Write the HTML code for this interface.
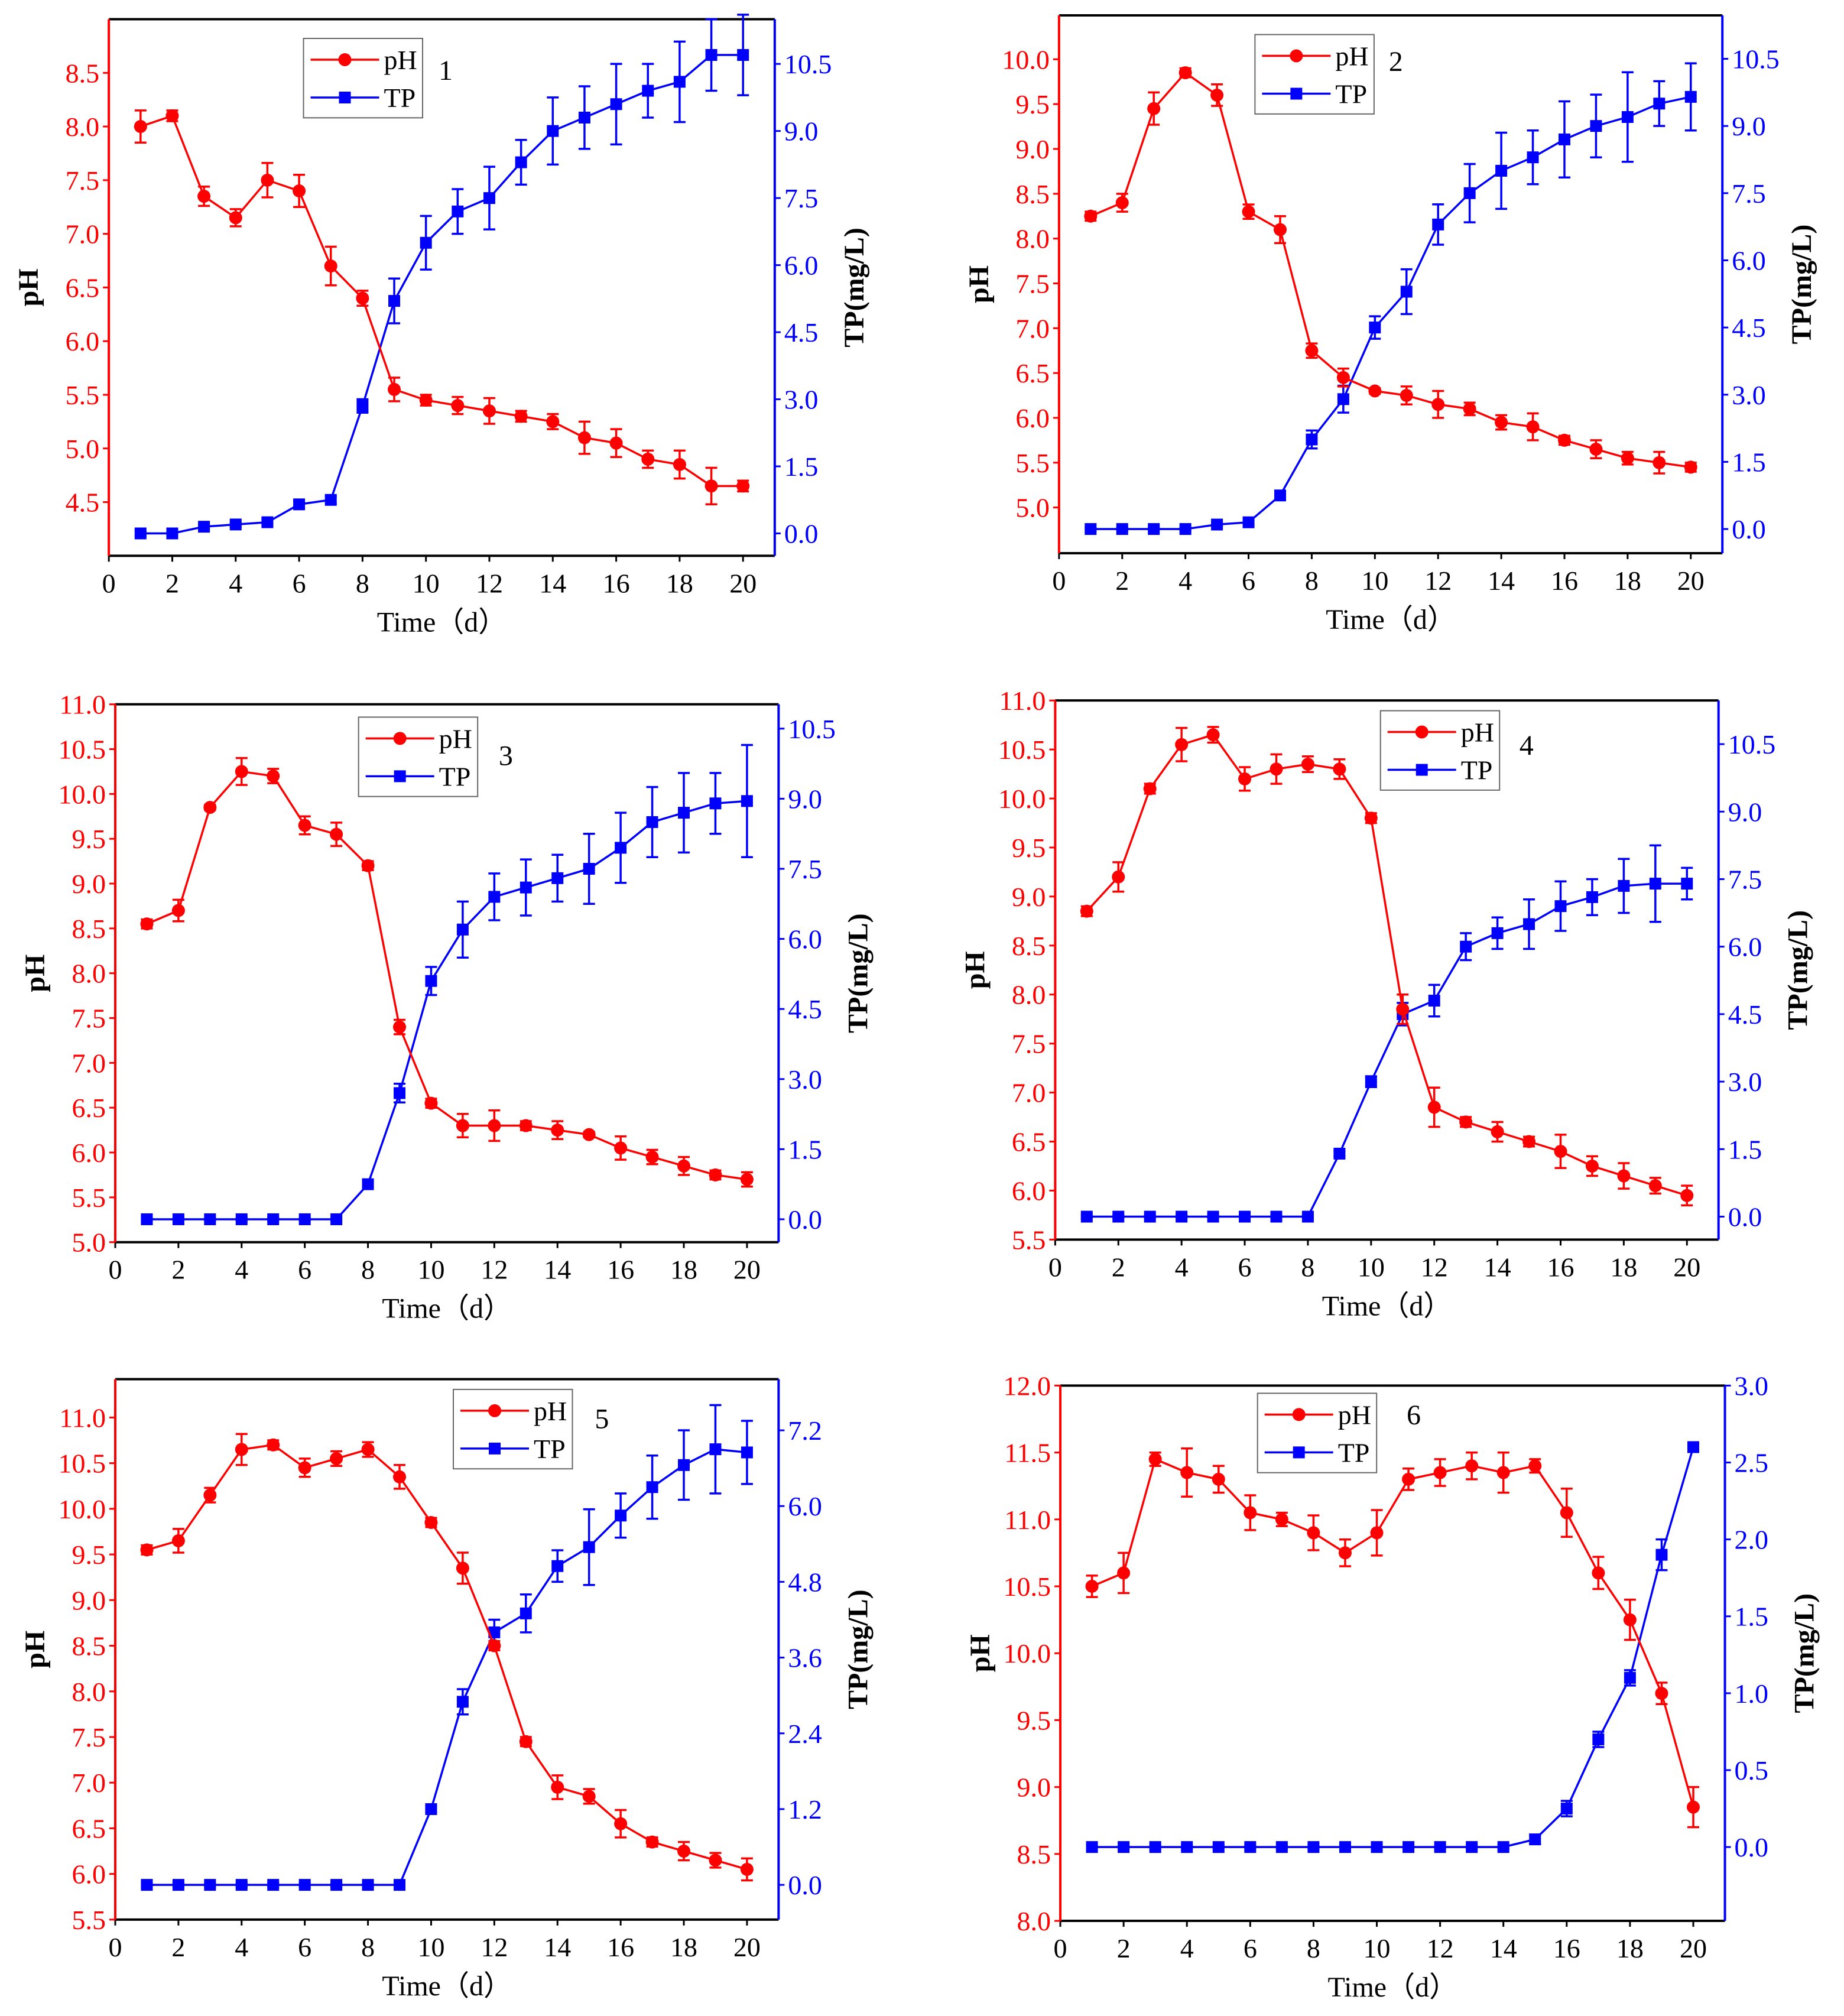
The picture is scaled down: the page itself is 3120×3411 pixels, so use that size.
<!DOCTYPE html>
<html><head><meta charset="utf-8"><style>
html,body{margin:0;padding:0;background:#fff;}
svg{display:block;}
text{font-family:"Liberation Serif",serif;}
</style></head><body>
<svg id="fig" width="3120" height="3411" viewBox="0 0 3120 3411" xmlns="http://www.w3.org/2000/svg"></svg>
<script>
const days = [1,2,3,4,5,6,7,8,9,10,11,12,13,14,15,16,17,18,19,20];
const xTicks = [0,2,4,6,8,10,12,14,16,18,20];
const ph1 = [8.0,8.1,7.35,7.15,7.5,7.4,6.7,6.4,5.55,5.45,5.4,5.35,5.3,5.25,5.1,5.05,4.9,4.85,4.65,4.65];
const ph1Err = [.15,.05,.09,.08,.16,.15,.18,.07,.11,.05,.08,.12,.05,.07,.15,.13,.08,.13,.17,.05];
const tp1 = [0,0,0.15,0.2,0.25,0.65,0.75,2.85,5.2,6.5,7.2,7.5,8.3,9.0,9.3,9.6,9.9,10.1,10.7,10.7];
const tp1Err = [.05,.05,.05,.05,.05,.08,.08,.15,.5,.6,.5,.7,.5,.75,.7,.9,.6,.9,.8,.9];
const ph2 = [8.25,8.4,9.45,9.85,9.6,8.3,8.1,6.75,6.45,6.3,6.25,6.15,6.1,5.95,5.9,5.75,5.65,5.55,5.5,5.45];
const ph2Err = [.05,.1,.18,.05,.12,.08,.15,.08,.1,.03,.1,.15,.07,.08,.15,.05,.1,.07,.12,.05];
const tp2 = [0,0,0,0,0.1,0.15,0.75,2.0,2.9,4.5,5.3,6.8,7.5,8.0,8.3,8.7,9.0,9.2,9.5,9.65];
const tp2Err = [.03,.03,.03,.03,.03,.05,.1,.2,.3,.25,.5,.45,.65,.85,.6,.85,.7,1.0,.5,.75];
const ph3 = [8.55,8.7,9.85,10.25,10.2,9.65,9.55,9.2,7.4,6.55,6.3,6.3,6.3,6.25,6.2,6.05,5.95,5.85,5.75,5.7];
const ph3Err = [.05,.12,.03,.15,.08,.1,.13,.05,.08,.05,.13,.17,.05,.1,.03,.13,.08,.1,.05,.08];
const tp3 = [0,0,0,0,0,0,0,0.75,2.7,5.1,6.2,6.9,7.1,7.3,7.5,7.95,8.5,8.7,8.9,8.95];
const tp3Err = [.03,.03,.03,.03,.03,.03,.03,.05,.2,.3,.6,.5,.6,.5,.75,.75,.75,.85,.65,1.2];
const ph4 = [8.85,9.2,10.1,10.55,10.65,10.2,10.3,10.35,10.3,9.8,7.85,6.85,6.7,6.6,6.5,6.4,6.25,6.15,6.05,5.95];
const ph4Err = [.05,.15,.05,.17,.08,.12,.15,.08,.1,.05,.15,.2,.05,.1,.05,.17,.1,.13,.08,.1];
const tp4 = [0,0,0,0,0,0,0,0,1.4,3.0,4.5,4.8,6.0,6.3,6.5,6.9,7.1,7.35,7.4,7.4];
const tp4Err = [.03,.03,.03,.03,.03,.03,.03,.03,.05,.12,.25,.35,.3,.35,.55,.55,.4,.6,.85,.35];
const ph5 = [9.55,9.65,10.15,10.65,10.7,10.45,10.55,10.65,10.35,9.85,9.35,8.5,7.45,6.95,6.85,6.55,6.35,6.25,6.15,6.05];
const ph5Err = [.05,.13,.08,.17,.05,.1,.08,.08,.13,.05,.17,.05,.05,.13,.08,.15,.05,.1,.08,.12];
const tp5 = [0,0,0,0,0,0,0,0,0,1.2,2.9,4.0,4.3,5.05,5.35,5.85,6.3,6.65,6.9,6.85];
const tp5Err = [.03,.03,.03,.03,.03,.03,.03,.03,.03,.05,.2,.2,.3,.25,.6,.35,.5,.55,.7,.5];
const ph6 = [10.5,10.6,11.45,11.35,11.3,11.05,11.0,10.9,10.75,10.9,11.3,11.35,11.4,11.35,11.4,11.05,10.6,10.25,9.7,8.85];
const ph6Err = [.08,.15,.05,.18,.1,.13,.05,.13,.1,.17,.08,.1,.1,.15,.05,.18,.12,.15,.08,.15];
const tp6 = [0,0,0,0,0,0,0,0,0,0,0,0,0,0,0.05,0.25,0.7,1.1,1.9,2.6];
const tp6Err = [.01,.01,.01,.01,.01,.01,.01,.01,.01,.01,.01,.01,.01,.01,.03,.05,.05,.05,.1,.03];
const phTicks1=[4.5,5.0,5.5,6.0,6.5,7.0,7.5,8.0,8.5];
const phTicks2=[5.0,5.5,6.0,6.5,7.0,7.5,8.0,8.5,9.0,9.5,10.0];
const phTicks3=[5.0,5.5,6.0,6.5,7.0,7.5,8.0,8.5,9.0,9.5,10.0,10.5,11.0];
const phTicks4=[5.5,6.0,6.5,7.0,7.5,8.0,8.5,9.0,9.5,10.0,10.5,11.0];
const phTicks5=[5.5,6.0,6.5,7.0,7.5,8.0,8.5,9.0,9.5,10.0,10.5,11.0];
const phTicks6=[8.0,8.5,9.0,9.5,10.0,10.5,11.0,11.5,12.0];
const tpTicksA=[0,1.5,3.0,4.5,6.0,7.5,9.0,10.5];
const tpTicks5=[0,1.2,2.4,3.6,4.8,6.0,7.2];
const tpTicks6=[0,0.5,1.0,1.5,2.0,2.5,3.0];

const S=2.1667;
const panels=[
 {n:'1',box:[85,605,15,434],ph:[4.0,9.0],tp:[-0.5,11.5],phV:ph1,phE:ph1Err,tpV:tp1,tpE:tp1Err,pt:phTicks1,tt:tpTicksA,dec:1,leg:[237,30],num:[348,55]},
 {n:'2',box:[827,1345,12,432],ph:[4.49,10.49],tp:[-0.54,11.47],phV:ph2,phE:ph2Err,tpV:tp2,tpE:tp2Err,pt:phTicks2,tt:tpTicksA,dec:1,leg:[980,27],num:[1090,48]},
 {n:'3',box:[90,608,550,970],ph:[5.0,11.0],tp:[-0.49,11.02],phV:ph3,phE:ph3Err,tpV:tp3,tpE:tp3Err,pt:phTicks3,tt:tpTicksA,dec:1,leg:[280,560],num:[395,590]},
 {n:'4',box:[824,1342,547,968],ph:[5.5,11.0],tp:[-0.51,11.47],phV:ph4,phE:ph4Err,tpV:tp4,tpE:tp4Err,pt:phTicks4,tt:tpTicksA,dec:1,leg:[1078,555],num:[1192,582]},
 {n:'5',box:[90,608,1077,1499],ph:[5.5,11.42],tp:[-0.55,8.01],phV:ph5,phE:ph5Err,tpV:tp5,tpE:tp5Err,pt:phTicks5,tt:tpTicks5,dec:1,leg:[354,1085],num:[470,1108]},
 {n:'6',box:[828,1347,1082,1500],ph:[8.0,12.0],tp:[-0.48,3.0],phV:ph6,phE:ph6Err,tpV:tp6,tpE:tp6Err,pt:phTicks6,tt:tpTicks6,dec:1,leg:[982,1088],num:[1104,1105]}
];
const NS='http://www.w3.org/2000/svg';
const svg=document.getElementById('fig');
function mk(tag,attrs,parent){const e=document.createElementNS(NS,tag);for(const k in attrs)e.setAttribute(k,attrs[k]);(parent||svg).appendChild(e);return e;}
panels.forEach(p=>{
 const L=p.box[0]*S,R=p.box[1]*S,T=p.box[2]*S,B=p.box[3]*S;
 const g=mk('g',{});
 
 
 const xs=v=>L+(v-0)/21*(R-L);
 const yp=v=>B-(v-p.ph[0])/(p.ph[1]-p.ph[0])*(B-T);
 const yt=v=>B-(v-p.tp[0])/(p.tp[1]-p.tp[0])*(B-T);
 // frame
 mk('line',{x1:L,y1:T,x2:R,y2:T,stroke:'#000','stroke-width':4},g);
 const xa=mk('line',{x1:L,y1:B,x2:R,y2:B,stroke:'#000','stroke-width':4},g);
 
 const la=mk('line',{x1:L,y1:T,x2:L,y2:B,stroke:'#f00','stroke-width':4},g);
 
 const ra=mk('line',{x1:R,y1:T,x2:R,y2:B,stroke:'#00f','stroke-width':4},g);
 
 xTicks.forEach(v=>{
  mk('line',{x1:xs(v),y1:B,x2:xs(v),y2:B+10,stroke:'#000','stroke-width':3},g);
  const t=mk('text',{x:xs(v),y:B+62,'font-size':46,'text-anchor':'middle',fill:'#000'},g);
  t.textContent=v;
  
 });
 p.pt.forEach(v=>{
  mk('line',{x1:L,y1:yp(v),x2:L-10,y2:yp(v),stroke:'#f00','stroke-width':3},g);
  const t=mk('text',{x:L-16,y:yp(v)+16,'font-size':46,'text-anchor':'end',fill:'#f00'},g);
  t.textContent=v.toFixed(1);
  
 });
 p.tt.forEach(v=>{
  mk('line',{x1:R,y1:yt(v),x2:R+10,y2:yt(v),stroke:'#00f','stroke-width':3},g);
  const t=mk('text',{x:R+16,y:yt(v)+16,'font-size':46,'text-anchor':'start',fill:'#00f'},g);
  t.textContent=v.toFixed(1);
  
 });
 const cy=(T+B)/2;
 const yl=mk('text',{x:L-120,y:cy,'font-size':48,'font-weight':'bold','text-anchor':'middle',transform:`rotate(-90 ${L-120} ${cy})`},g);
 yl.textContent='pH';
 const rl=mk('text',{x:R+150,y:cy,'font-size':48,'font-weight':'bold','text-anchor':'middle',transform:`rotate(-90 ${R+150} ${cy})`},g);
 rl.textContent='TP(mg/L)';
 const xl=mk('text',{x:(L+R)/2,y:B+128,'font-size':48,'text-anchor':'middle'},g);
 xl.textContent='Time（d）';
 // series
 function series(vals,errs,ys,col,shape,nm){
  const sg=mk('g',{},g);
  
  mk('polyline',{points:days.map((d,i)=>xs(d)+','+ys(vals[i])).join(' '),fill:'none',stroke:col,'stroke-width':3.5},sg);
  days.forEach((d,i)=>{
   const x=xs(d),y1=ys(vals[i]+errs[i]),y2=ys(vals[i]-errs[i]);
   mk('line',{x1:x,y1:y1,x2:x,y2:y2,stroke:col,'stroke-width':3.5},sg);
   mk('line',{x1:x-10,y1:y1,x2:x+10,y2:y1,stroke:col,'stroke-width':3.5},sg);
   mk('line',{x1:x-10,y1:y2,x2:x+10,y2:y2,stroke:col,'stroke-width':3.5},sg);
   if(shape==='c') mk('circle',{cx:x,cy:ys(vals[i]),r:11,fill:col},sg);
   else mk('rect',{x:x-10,y:ys(vals[i])-10,width:20,height:20,fill:col},sg);
  });
 }
 series(p.tpV,p.tpE,yt,'#00f','s','tp-series');
 series(p.phV,p.phE,yp,'#f00','c','ph-series');
 // legend
 const lx=p.leg[0]*S,ly=p.leg[1]*S;
 const lg=mk('g',{},g);
 
 mk('rect',{x:lx,y:ly,width:93*S,height:62*S,fill:'#fff',stroke:'#666','stroke-width':2},lg);
 mk('line',{x1:lx+12,y1:ly+36,x2:lx+128,y2:ly+36,stroke:'#f00','stroke-width':3.5},lg);
 mk('circle',{cx:lx+70,cy:ly+36,r:11,fill:'#f00'},lg);
 const t1=mk('text',{x:lx+136,y:ly+52,'font-size':46},lg);t1.textContent='pH';
 
 mk('line',{x1:lx+12,y1:ly+100,x2:lx+128,y2:ly+100,stroke:'#00f','stroke-width':3.5},lg);
 mk('rect',{x:lx+60,y:ly+90,width:20,height:20,fill:'#00f'},lg);
 const t2=mk('text',{x:lx+136,y:ly+116,'font-size':46},lg);t2.textContent='TP';
 
 const nl=mk('text',{x:p.num[0]*S,y:p.num[1]*S+16,'font-size':48,'text-anchor':'middle'},g);
 nl.textContent=p.n;
});
</script>
</body></html>
